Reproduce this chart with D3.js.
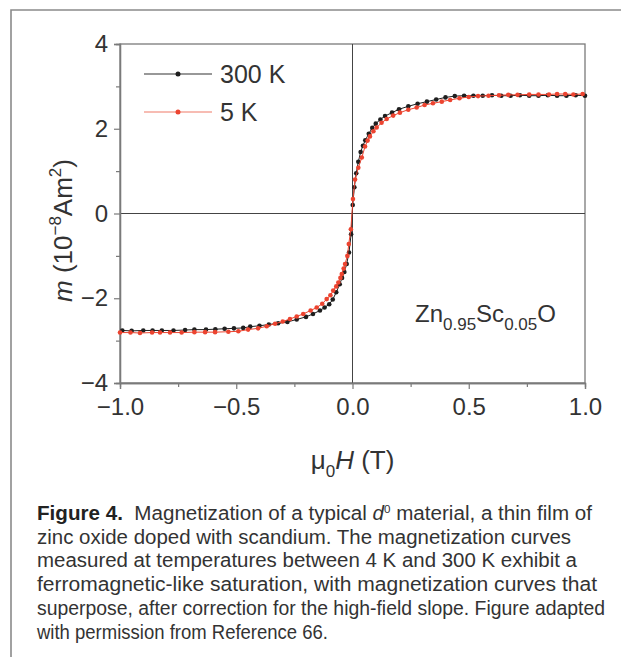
<!DOCTYPE html>
<html><head><meta charset="utf-8">
<script src="https://cdn.jsdelivr.net/npm/d3@7"></script>
<style>body{margin:0;background:#fff}svg{display:block}</style>
</head><body><svg id="c" width="621" height="657"></svg>
<script>
// ---- data ----
const seriesNames = ["300 K", "5 K"];
const field300 = [-0.99,-0.95,-0.90,-0.86,-0.82,-0.77,-0.72,-0.68,-0.63,-0.59,-0.55,-0.51,-0.47,-0.44,-0.40,-0.36,-0.32,-0.28,-0.24,-0.20,-0.17,-0.14,-0.12,-0.10,-0.085,-0.07,-0.055,-0.045,-0.035,-0.025,-0.015,-0.006,0.001,0.008,0.016,0.025,0.035,0.045,0.055,0.07,0.085,0.10,0.12,0.14,0.17,0.20,0.24,0.28,0.32,0.36,0.40,0.44,0.48,0.52,0.56,0.60,0.64,0.68,0.72,0.76,0.80,0.84,0.88,0.92,0.96,1.0];
const moment300 = [-2.76,-2.77,-2.76,-2.76,-2.76,-2.76,-2.75,-2.74,-2.74,-2.73,-2.72,-2.71,-2.70,-2.67,-2.65,-2.62,-2.59,-2.56,-2.50,-2.44,-2.37,-2.29,-2.22,-2.14,-2.03,-1.86,-1.67,-1.52,-1.38,-1.19,-0.92,-0.49,0.20,0.62,0.95,1.22,1.45,1.60,1.73,1.88,2.02,2.12,2.22,2.30,2.38,2.46,2.53,2.59,2.64,2.69,2.74,2.77,2.78,2.78,2.78,2.79,2.78,2.78,2.79,2.78,2.78,2.79,2.78,2.78,2.79,2.78];
const field5 = [-1.0,-0.955,-0.914,-0.862,-0.828,-0.785,-0.735,-0.68,-0.634,-0.591,-0.534,-0.491,-0.449,-0.406,-0.369,-0.333,-0.30,-0.269,-0.24,-0.212,-0.18,-0.154,-0.13,-0.111,-0.095,-0.083,-0.07,-0.061,-0.052,-0.046,-0.038,-0.032,-0.022,-0.016,-0.007,0.002,0.011,0.025,0.04,0.054,0.065,0.075,0.09,0.104,0.125,0.147,0.175,0.204,0.24,0.276,0.31,0.346,0.384,0.42,0.46,0.50,0.54,0.585,0.63,0.67,0.71,0.76,0.80,0.845,0.88,0.915,0.95,0.99];
const moment5 = [-2.81,-2.81,-2.82,-2.81,-2.81,-2.81,-2.81,-2.80,-2.80,-2.80,-2.79,-2.78,-2.74,-2.71,-2.66,-2.60,-2.55,-2.49,-2.43,-2.37,-2.29,-2.22,-2.13,-2.02,-1.93,-1.82,-1.72,-1.63,-1.52,-1.43,-1.30,-1.19,-1.00,-0.72,-0.37,0.34,0.80,1.08,1.32,1.58,1.72,1.82,1.94,2.03,2.14,2.23,2.31,2.38,2.45,2.50,2.56,2.60,2.64,2.68,2.72,2.75,2.77,2.78,2.79,2.80,2.80,2.81,2.81,2.81,2.82,2.82,2.81,2.82];
const xTicks = [-1, -0.5, 0, 0.5, 1];
const xMinorTicks = [-0.75, -0.25, 0.25, 0.75];
const yTicks = [-4, -2, 0, 2, 4];
const yMinorTicks = [-3, -1, 1, 3];
const annotation = ["Zn", "0.95", "Sc", "0.05", "O"];
const captionLines = [
  "zinc oxide doped with scandium. The magnetization curves",
  "measured at temperatures between 4 K and 300 K exhibit a",
  "ferromagnetic-like saturation, with magnetization curves that",
  "superpose, after correction for the high-field slope. Figure adapted",
  "with permission from Reference 66."
];
const captionEnds = [592, 571, 577, 597, 605, 328];

// ---- drawing ----
const svg = d3.select("#c");
const font = "'Liberation Sans', Arial, Helvetica, sans-serif";
const txt = "#333";
const L = 120, R = 585, T = 44, B = 383;
const x = d3.scaleLinear().domain([-1, 1]).range([L, R]);
const y = d3.scaleLinear().domain([-4, 4]).range([B, T]);

// outer frame
svg.append("path").attr("d", `M11,657 L11,10 L621,10`).attr("fill","none")
  .attr("stroke","#8a8a8a").attr("stroke-width",1.6);

// plot box
svg.append("rect").attr("x",L).attr("y",T).attr("width",R-L).attr("height",B-T)
  .attr("fill","none").attr("stroke","#7a7a7a").attr("stroke-width",1.3);
// zero lines
svg.append("line").attr("x1",x(0)).attr("x2",x(0)).attr("y1",T).attr("y2",B).attr("stroke","#444").attr("stroke-width",1);
svg.append("line").attr("x1",L).attr("x2",R).attr("y1",y(0)).attr("y2",y(0)).attr("stroke","#444").attr("stroke-width",1);

// axes
const xAxis = svg.append("g").attr("transform",`translate(0,${B})`)
  .call(d3.axisBottom(x).tickValues(xTicks).tickFormat(d3.format(".1f")).tickSize(6).tickPadding(9));
const xMinor = svg.append("g").attr("transform",`translate(0,${B})`)
  .call(d3.axisBottom(x).tickValues(xMinorTicks).tickFormat("").tickSize(4));
const yAxis = svg.append("g").attr("transform",`translate(${L},0)`)
  .call(d3.axisLeft(y).tickValues(yTicks).tickFormat(d3.format("d")).tickSize(6).tickPadding(6));
const yMinor = svg.append("g").attr("transform",`translate(${L},0)`)
  .call(d3.axisLeft(y).tickValues(yMinorTicks).tickFormat("").tickSize(4));
[xAxis,xMinor,yAxis,yMinor].forEach(g=>{
  g.select(".domain").attr("stroke","#7a7a7a").attr("stroke-width",1.3);
  g.selectAll(".tick line").attr("stroke","#7a7a7a").attr("stroke-width",1.2);
  g.selectAll("text").attr("font-family",font).attr("font-size",24).attr("fill",txt);
});
xAxis.selectAll("text").attr("dy","0.71em");

// series
const data300 = field300.map((h,i)=>({h, m: moment300[i]}));
const data5 = field5.map((h,i)=>({h, m: moment5[i]}));
const line = d3.line().x(d=>x(d.h)).y(d=>y(d.m));
const colors = ["#1e1e1e", "#ec4430"];
[[data300, colors[0]], [data5, colors[1]]].forEach(([d,c])=>{
  const g = svg.append("g");
  g.append("path").datum(d).attr("d", line).attr("fill","none").attr("stroke",c).attr("stroke-width",1);
  g.selectAll("circle").data(d).join("circle").attr("cx",p=>x(p.h)).attr("cy",p=>y(p.m)).attr("r",2.3).attr("fill",c);
});

// legend
seriesNames.forEach((name,i)=>{
  const ly = 74 + i*38;
  svg.append("line").attr("x1",144).attr("x2",212).attr("y1",ly).attr("y2",ly)
    .attr("stroke", i ? "#f07a68" : "#333").attr("stroke-width",1.1);
  svg.append("circle").attr("cx",178).attr("cy",ly).attr("r",2.5).attr("fill",colors[i]);
  svg.append("text").attr("x",220).attr("y",ly+9).attr("font-family",font).attr("font-size",25)
    .attr("fill",txt).text(name);
});

// annotation
const ann = svg.append("text").attr("x",415).attr("y",322).attr("font-family",font).attr("font-size",24).attr("fill",txt);
annotation.forEach((s,i)=>{
  const t = ann.append("tspan").text(s);
  if (i%2===1) t.attr("font-size",17).attr("dy",8);
  else if (i>0) t.attr("dy",-8);
});

// x title
const xt = svg.append("text").attr("x",x(0)).attr("y",469).attr("text-anchor","middle")
  .attr("font-family",font).attr("font-size",26).attr("fill",txt);
xt.append("tspan").text("\u03BC");
xt.append("tspan").attr("font-size",17).attr("dy",8).text("0");
xt.append("tspan").attr("dy",-8).attr("font-style","italic").text("H");
xt.append("tspan").text(" (T)");

// y title
const yt = svg.append("text").attr("transform",`translate(72,${(T+B)/2 + 17}) rotate(-90)`)
  .attr("text-anchor","middle").attr("font-family",font).attr("font-size",26).attr("fill",txt);
yt.append("tspan").attr("font-style","italic").text("m");
yt.append("tspan").text(" (10");
yt.append("tspan").attr("font-size",17).attr("dy",-11).text("\u22128");
yt.append("tspan").attr("dy",11).text("Am");
yt.append("tspan").attr("font-size",17).attr("dy",-11).text("2");
yt.append("tspan").attr("dy",11).text(")");

// caption
const capX = 37, capY0 = 520, capDy = 23.7, capFs = 19.5;
const c1 = svg.append("text").attr("x",capX).attr("y",capY0).attr("font-family",font).attr("font-size",capFs).attr("fill",txt)
  .attr("textLength", captionEnds[0]-capX).attr("lengthAdjust","spacingAndGlyphs");
c1.append("tspan").attr("font-weight","bold").attr("fill","#222").text("Figure 4.");
c1.append("tspan").text("\u00A0 Magnetization of a typical ");
c1.append("tspan").attr("font-style","italic").text("d");
c1.append("tspan").attr("font-size",11).attr("dy",-7).text("0");
c1.append("tspan").attr("dy",7).text(" material, a thin film of");
captionLines.forEach((s,i)=>{
  svg.append("text").attr("x",capX).attr("y",capY0+(i+1)*capDy).attr("font-family",font).attr("font-size",capFs)
    .attr("fill",txt).attr("textLength",captionEnds[i+1]-capX).attr("lengthAdjust","spacingAndGlyphs").text(s);
});
</script></body></html>
